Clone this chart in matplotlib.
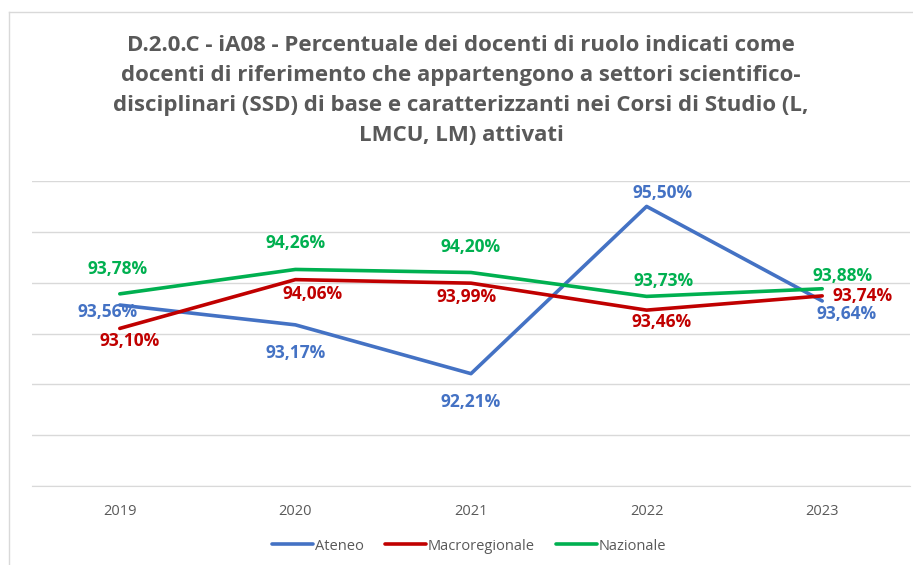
import matplotlib.pyplot as plt
from matplotlib.lines import Line2D

years = ['2019', '2020', '2021', '2022', '2023']
ateneo = [93.56, 93.17, 92.21, 95.50, 93.64]
macroregionale = [93.10, 94.06, 93.99, 93.46, 93.74]
nazionale = [93.78, 94.26, 94.20, 93.73, 93.88]

title = ('D.2.0.C - iA08 - Percentuale dei docenti di ruolo indicati come\n'
         'docenti di riferimento che appartengono a settori scientifico-\n'
         'disciplinari (SSD) di base e caratterizzanti nei Corsi di Studio (L,\n'
         'LMCU, LM) attivati')

# label offsets in pixels (dx, dy) from each point
off_ateneo = [(-12, -7), (0, -28), (0, -28), (16, 13), (24, -13)]
off_macro = [(10, -13), (17, -14), (-4, -14), (15, -12), (40, 0)]
off_naz = [(-2, 25), (0, 26), (0, 26), (17, 15), (20, 13)]

plt.rcParams['font.family'] = ['Open Sans', 'DejaVu Sans']

fig = plt.figure(figsize=(9.13, 5.65), dpi=100)
ax = fig.add_axes([32 / 913, 1 - 486 / 565, 878 / 913, 305 / 565])

x = range(len(years))
series = [
    ('Ateneo', ateneo, '#4472C4', off_ateneo),
    ('Macroregionale', macroregionale, '#C00000', off_macro),
    ('Nazionale', nazionale, '#00B050', off_naz),
]
for name, vals, col, offs in series:
    ax.plot(x, vals, color=col, lw=2.6, label=name, solid_capstyle='round', zorder=3)
for name, vals, col, offs in series:
    for i, v in enumerate(vals):
        ax.annotate(f'{v:.2f}%'.replace('.', ','), (i, v), xytext=offs[i],
                    textcoords='offset pixels', ha='center', va='center',
                    color=col, fontsize=12.5, fontweight='bold', zorder=4)

ax.set_xlim(-0.5, len(years) - 0.5)
ax.set_ylim(90, 96)
ax.set_yticks([90, 91, 92, 93, 94, 95, 96])
ax.yaxis.grid(True, color='#D9D9D9', lw=1)
ax.set_axisbelow(True)
ax.tick_params(axis='y', left=False, labelleft=False)
ax.tick_params(axis='x', length=0, pad=13, labelsize=10.5, labelcolor='#595959')
ax.set_xticks(list(x))
ax.set_xticklabels(years)
for s in ['top', 'right', 'left']:
    ax.spines[s].set_visible(False)
ax.spines['bottom'].set_color('#D9D9D9')

fig.text(0.505, 1 - 35 / 565, title, ha='center', va='top', fontsize=16,
         fontweight='bold', color='#595959', linespacing=1.56)

leg = fig.legend(loc='center', bbox_to_anchor=(0.514, 1 - 546 / 565), ncol=3,
                 frameon=False, fontsize=10.5, handlelength=2.8, handletextpad=0.1,
                 columnspacing=1.5)
for t in leg.get_texts():
    t.set_color('#595959')

# chart area border (left and top edges)
fig.add_artist(Line2D([9 / 913, 9 / 913], [0, 1 - 12 / 565], color='#D9D9D9', lw=1))
fig.add_artist(Line2D([9 / 913, 1], [1 - 12 / 565, 1 - 12 / 565], color='#D9D9D9', lw=1))

fig.savefig('out.png', dpi=100)
